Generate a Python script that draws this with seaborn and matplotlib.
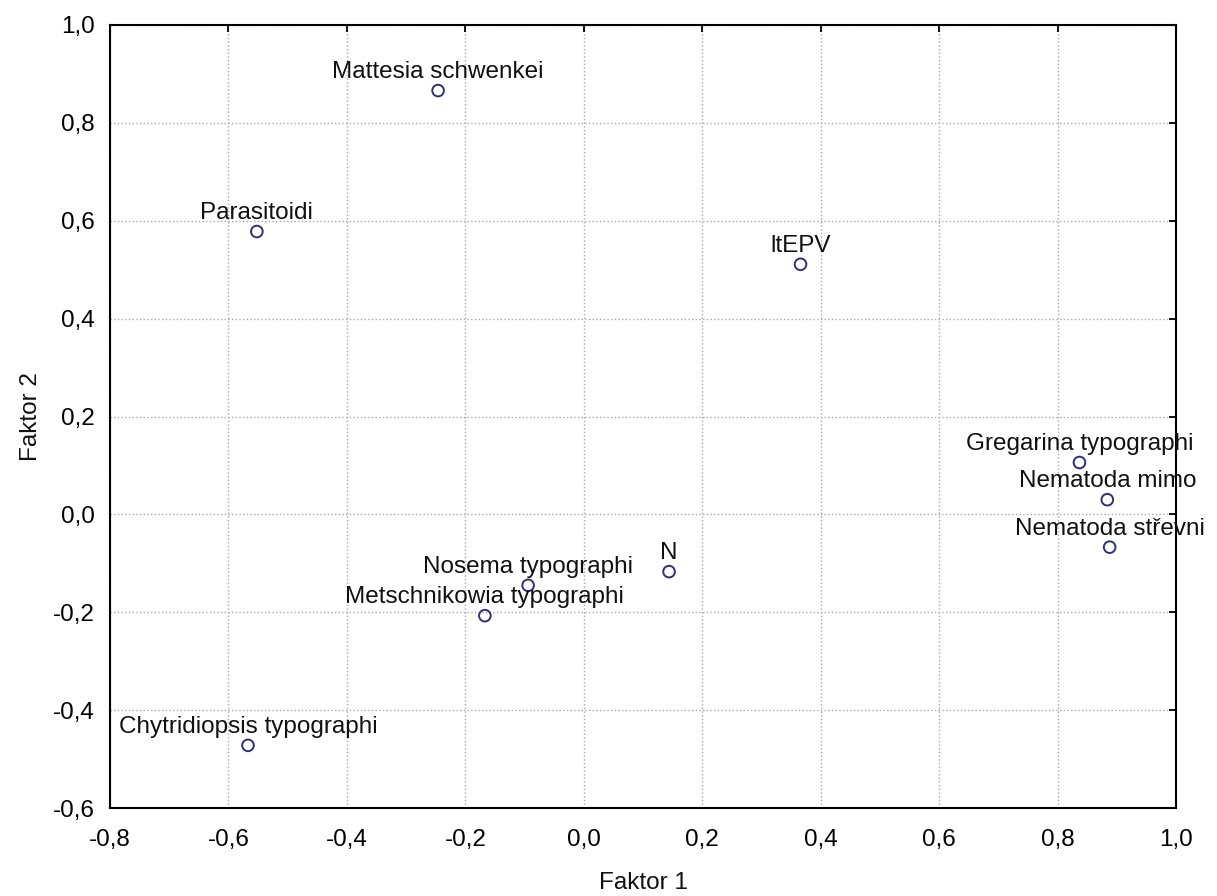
import matplotlib
matplotlib.use("Agg")
import matplotlib.pyplot as plt
import seaborn as sns
import pandas as pd

names = ["Mattesia schwenkei", "Parasitoidi", "ltEPV", "Gregarina typographi",
         "Nematoda mimo", "Nematoda střevni", "N", "Nosema typographi",
         "Metschnikowia typographi", "Chytridiopsis typographi"]
faktor1 = [-0.246, -0.552, 0.366, 0.837, 0.884, 0.888, 0.144, -0.094, -0.167, -0.567]
faktor2 = [0.866, 0.578, 0.511, 0.106, 0.030, -0.067, -0.117, -0.145, -0.207, -0.472]

xticks = [-0.8, -0.6, -0.4, -0.2, 0.0, 0.2, 0.4, 0.6, 0.8, 1.0]
yticks = [-0.6, -0.4, -0.2, 0.0, 0.2, 0.4, 0.6, 0.8, 1.0]

df = pd.DataFrame({"Faktor 1": faktor1, "Faktor 2": faktor2, "name": names})

sns.set_style("white")
plt.rcParams["font.family"] = ["Liberation Sans", "DejaVu Sans"]

fig = plt.figure(figsize=(12.17, 8.96), dpi=100)
ax = fig.add_axes([110/1217, 1 - 808/896, (1176-110)/1217, (808-25)/896])

sns.scatterplot(data=df, x="Faktor 1", y="Faktor 2", ax=ax, marker="o",
                s=70, facecolor="none", edgecolor="#30307a", linewidth=1.4, zorder=3)

for n, x, y in zip(names, faktor1, faktor2):
    ax.annotate(n, (x, y), xytext=(0, 9), textcoords="offset points",
                ha="center", va="baseline", fontsize=17.5, color="#111111",
                annotation_clip=False, clip_on=False)

ax.set_xlim(-0.8, 1.0)
ax.set_ylim(-0.6, 1.0)
ax.set_xticks(xticks)
ax.set_yticks(yticks)
ax.set_xticklabels([f"{t:.1f}".replace(".", ",") for t in xticks])
ax.set_yticklabels([f"{t:.1f}".replace(".", ",") for t in yticks])
ax.tick_params(direction="in", length=5, width=1.3, colors="black",
               labelsize=17.5, top=True, right=True)
ax.tick_params(axis="x", pad=15)
ax.tick_params(axis="y", pad=11)
ax.grid(True, linestyle=":", color="#a8a8a8", linewidth=1.0)
for sp in ax.spines.values():
    sp.set_color("black")
    sp.set_linewidth(1.5)
ax.set_xlabel("Faktor 1", fontsize=17.5, labelpad=15, color="#111111")
ax.set_ylabel("Faktor 2", fontsize=17.5, labelpad=8, color="#111111")

fig.savefig("out.png", dpi=100)
